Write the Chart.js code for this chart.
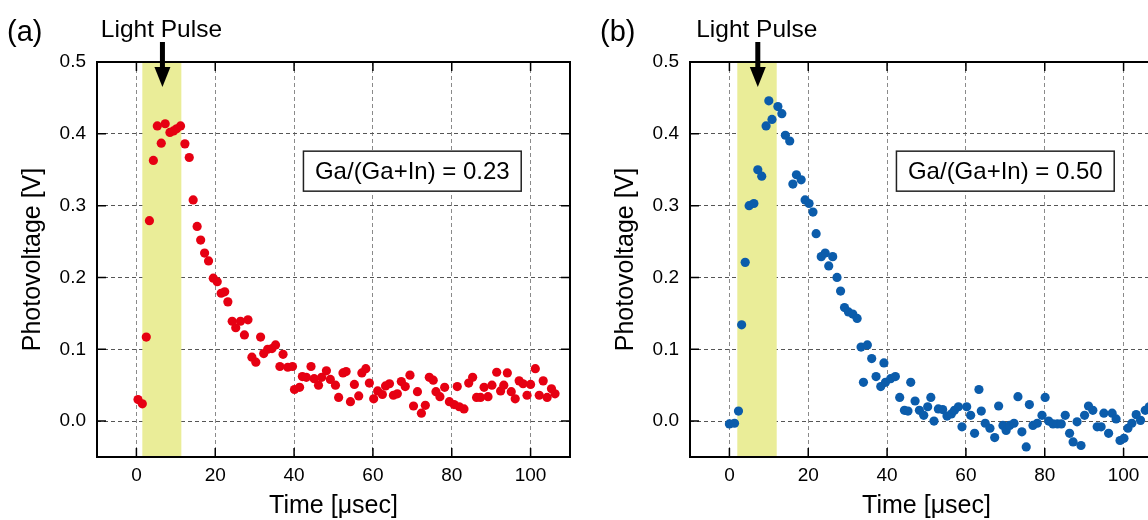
<!DOCTYPE html>
<html><head><meta charset="utf-8">
<script src="https://cdn.jsdelivr.net/npm/chart.js@4/dist/chart.umd.min.js"></script>
<style>
html,body{margin:0;padding:0;background:#fff;overflow:hidden;}
#wrap{position:relative;width:1148px;height:520px;overflow:hidden;background:#fff;}
canvas{position:absolute;top:0;}
#ca{left:0}
#cb{left:593px}
</style></head><body>
<div id="wrap"><canvas id="ca" width="593" height="520"></canvas><canvas id="cb" width="593" height="520"></canvas></div>
<script>
const X_TICKS = [0, 20, 40, 60, 80, 100];
const Y_TICKS = [0.0, 0.1, 0.2, 0.3, 0.4, 0.5];
const X_RANGE = [-10, 110];
const Y_RANGE = [-0.05, 0.5];
const X_TITLE = 'Time [μsec]';
const Y_TITLE = 'Photovoltage [V]';
const PANEL_LABELS = ['(a)', '(b)'];
const BOX_TEXTS = ['Ga/(Ga+In) = 0.23', 'Ga/(Ga+In) = 0.50'];
const PULSE_TEXT = 'Light Pulse';
const PULSE_A = [1.5, 11.4];
const PULSE_B = [2.0, 12.0];
const ARROW_X = [6.6, 7.2];
const BOX_AT = [70, 0.348];

const A_X = [0.4,1.5,2.5,3.3,4.3,5.3,6.3,7.3,8.5,9.4,10.2,11.2,12.3,13.4,14.4,15.4,16.3,17.3,18.3,19.5,20.5,21.5,22.4,23.2,24.3,25.2,26.4,27.4,28.3,29.3,30.3,31.5,32.3,33.3,34.4,35.3,36.4,37.2,38.4,39.6,40.1,41.4,42.1,43.1,44.3,45.1,46.2,47.0,48.2,49.2,50.5,51.3,52.4,53.2,54.3,55.3,56.4,57.2,58.2,59.1,60.2,61.2,62.4,63.2,64.2,65.2,66.2,67.2,68.2,69.4,70.3,71.3,72.3,73.3,74.3,75.3,76.0,77.0,78.2,79.4,80.6,81.4,81.9,83.1,84.3,85.3,86.3,87.3,88.2,89.2,90.2,91.4,92.4,93.2,94.1,95.1,96.1,97.1,98.1,99.1,100.0,101.2,102.2,103.2,104.2,105.3,106.2];
const A_Y = [0.030,0.024,0.117,0.279,0.363,0.411,0.387,0.414,0.402,0.404,0.407,0.411,0.386,0.367,0.308,0.271,0.252,0.234,0.223,0.199,0.194,0.178,0.180,0.166,0.139,0.130,0.139,0.120,0.141,0.089,0.082,0.117,0.094,0.100,0.101,0.106,0.076,0.093,0.075,0.076,0.044,0.047,0.062,0.061,0.076,0.059,0.050,0.061,0.070,0.058,0.050,0.033,0.067,0.069,0.027,0.051,0.035,0.067,0.073,0.053,0.031,0.042,0.037,0.049,0.052,0.036,0.038,0.055,0.048,0.064,0.021,0.041,0.011,0.022,0.061,0.057,0.041,0.034,0.047,0.027,0.023,0.048,0.020,0.017,0.053,0.061,0.033,0.033,0.047,0.034,0.050,0.068,0.042,0.050,0.067,0.041,0.031,0.056,0.052,0.036,0.051,0.073,0.036,0.056,0.033,0.045,0.038];
const B_X = [0.0,1.3,2.3,3.1,4.0,5.0,6.2,7.2,8.2,9.3,10.0,10.8,12.3,13.3,14.2,15.3,16.1,17.0,18.2,19.2,20.2,21.2,22.0,23.3,24.3,25.2,26.2,27.3,28.2,29.2,30.2,31.3,32.4,33.4,34.0,35.0,36.1,37.2,38.4,39.2,39.6,40.9,42.1,43.2,44.4,45.3,46.0,47.1,48.2,49.3,50.3,51.1,51.9,53.0,54.1,55.2,56.3,57.1,58.1,59.0,60.2,61.2,62.2,63.3,63.9,64.9,66.1,67.3,68.3,69.4,70.2,71.1,72.2,73.2,74.2,75.3,76.1,77.0,78.1,79.3,80.1,81.0,82.1,83.2,84.2,85.2,86.3,87.2,88.2,89.2,90.1,91.1,92.2,93.3,94.3,95.0,96.2,97.1,98.1,99.1,100.1,101.1,102.1,103.2,104.3,105.5,106.5];
const B_Y = [-0.004,-0.003,0.014,0.134,0.221,0.300,0.303,0.350,0.341,0.411,0.446,0.420,0.438,0.428,0.398,0.390,0.330,0.343,0.336,0.308,0.303,0.291,0.261,0.229,0.234,0.216,0.229,0.200,0.181,0.158,0.152,0.149,0.143,0.103,0.054,0.106,0.087,0.062,0.048,0.081,0.054,0.059,0.062,0.033,0.015,0.014,0.054,0.028,0.015,0.008,0.020,0.033,0.000,0.017,0.016,0.007,0.010,0.015,0.020,-0.008,0.020,0.008,-0.017,0.044,0.014,-0.003,-0.010,-0.023,0.021,-0.006,-0.013,-0.006,-0.003,0.034,-0.015,-0.036,0.023,-0.006,-0.003,0.008,0.033,0.000,-0.004,-0.004,-0.004,0.008,-0.017,-0.029,-0.001,-0.034,0.008,0.021,0.015,-0.008,-0.008,0.011,-0.017,0.011,0.003,-0.027,-0.024,-0.010,-0.003,0.009,0.001,0.015,0.020];

const FONT = '"Liberation Sans", Arial, Helvetica, sans-serif';
const SHADE = 'rgb(234,237,152)';

function decoPlugin(idx, pulse) {
  return {
    id: 'deco' + idx,
    beforeDatasetsDraw(chart) {
      const {ctx, chartArea: a, scales: {x}} = chart;
      const x0 = x.getPixelForValue(pulse[0]), x1 = x.getPixelForValue(pulse[1]);
      ctx.save();
      ctx.fillStyle = SHADE;
      ctx.fillRect(x0, a.top, x1 - x0, a.bottom - a.top);
      ctx.restore();
    },
    afterDraw(chart) {
      const {ctx, chartArea: a, scales: {x, y}} = chart;
      ctx.save();
      ctx.strokeStyle = '#000';
      ctx.lineWidth = 1.5;
      ctx.beginPath();
      X_TICKS.forEach(v => {
        const p = x.getPixelForValue(v);
        ctx.moveTo(p, a.bottom); ctx.lineTo(p, a.bottom - 9);
        ctx.moveTo(p, a.top); ctx.lineTo(p, a.top + 9);
      });
      Y_TICKS.forEach(v => {
        const p = y.getPixelForValue(v);
        ctx.moveTo(a.left, p); ctx.lineTo(a.left + 9, p);
        ctx.moveTo(a.right, p); ctx.lineTo(a.right - 9, p);
      });
      ctx.stroke();
      ctx.lineWidth = 2;
      ctx.strokeRect(a.left, a.top, a.right - a.left, a.bottom - a.top);
      ctx.font = '24px ' + FONT;
      const tw = ctx.measureText(BOX_TEXTS[idx]).width;
      const cx = x.getPixelForValue(BOX_AT[0]), cy = y.getPixelForValue(BOX_AT[1]);
      const bw = tw + 23, bh = 40;
      ctx.fillStyle = '#fff';
      ctx.fillRect(cx - bw / 2, cy - bh / 2, bw, bh);
      ctx.lineWidth = 1.5;
      ctx.strokeStyle = '#222';
      ctx.strokeRect(cx - bw / 2, cy - bh / 2, bw, bh);
      ctx.fillStyle = '#000';
      ctx.textAlign = 'center';
      ctx.textBaseline = 'middle';
      ctx.fillText(BOX_TEXTS[idx], cx, cy + 1);
      const ax = x.getPixelForValue(ARROW_X[idx]);
      ctx.fillStyle = '#000';
      ctx.fillRect(ax - 2.5, a.top - 20, 5, 27);
      ctx.beginPath();
      ctx.moveTo(ax - 8, a.top + 5);
      ctx.lineTo(ax + 8, a.top + 5);
      ctx.lineTo(ax, a.top + 25);
      ctx.closePath();
      ctx.fill();
      ctx.textBaseline = 'alphabetic';
      ctx.textAlign = 'center';
      ctx.font = '24.5px ' + FONT;
      ctx.fillText(PULSE_TEXT, ax - 1, 37);
      ctx.textAlign = 'left';
      ctx.font = '29px ' + FONT;
      ctx.fillText(PANEL_LABELS[idx], 7, 41);
      ctx.restore();
    }
  };
}

function makeChart(id, idx, xs, ys, color, pulse) {
  const data = xs.map((v, i) => ({x: v, y: ys[i]}));
  return new Chart(document.getElementById(id), {
    type: 'scatter',
    data: {datasets: [{data, backgroundColor: color, borderWidth: 0, pointRadius: 4.6, pointHoverRadius: 4.6}]},
    options: {
      responsive: false,
      animation: false,
      events: [],
      devicePixelRatio: 1,
      layout: {padding: {top: 62, right: 23, bottom: 0, left: 0}},
      plugins: {legend: {display: false}, tooltip: {enabled: false}},
      scales: {
        x: {
          type: 'linear', min: X_RANGE[0], max: X_RANGE[1],
          afterBuildTicks: s => { s.ticks = X_TICKS.map(v => ({value: v})); },
          afterFit: s => { s.height = 63; },
          ticks: {font: {family: FONT, size: 19}, color: '#000', padding: 7, callback: v => String(v)},
          grid: {color: '#8a8a8a', lineWidth: 1, drawTicks: false},
          border: {display: false, dash: [4, 3]},
          title: {display: true, text: X_TITLE, color: '#000', font: {family: FONT, size: 25, lineHeight: 1}, padding: {top: 0, bottom: 1}}
        },
        y: {
          type: 'linear', min: Y_RANGE[0], max: Y_RANGE[1],
          afterBuildTicks: s => { s.ticks = Y_TICKS.map(v => ({value: v})); },
          afterFit: s => { s.width = 97; },
          ticks: {font: {family: FONT, size: 19}, color: '#000', padding: 11, callback: v => Number(v).toFixed(1)},
          grid: {color: '#555', lineWidth: 1, drawTicks: false},
          border: {display: false, dash: [4, 3]},
          title: {display: true, text: Y_TITLE, color: '#000', font: {family: FONT, size: 25, lineHeight: 1.2}, padding: {top: 18, bottom: 0}}
        }
      }
    },
    plugins: [decoPlugin(idx, pulse)]
  });
}

makeChart('ca', 0, A_X, A_Y, '#E60012', PULSE_A);
makeChart('cb', 1, B_X, B_Y, '#0B5CAB', PULSE_B);
</script>
</body></html>
